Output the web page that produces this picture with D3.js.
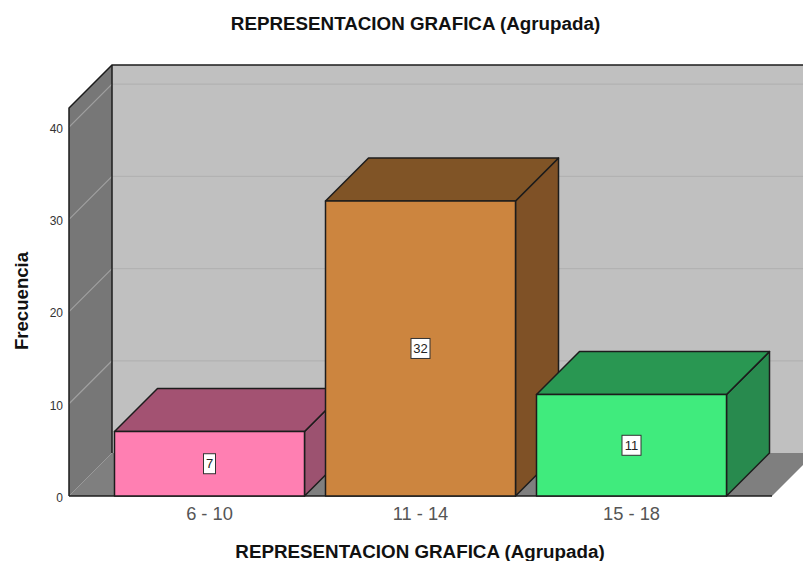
<!DOCTYPE html>
<html>
<head>
<meta charset="utf-8">
<script src="https://cdn.jsdelivr.net/npm/d3@7"></script>
<style>
  html, body { margin: 0; padding: 0; background: #fff; }
  svg { display: block; }
  text { font-family: "Liberation Sans", Arial, sans-serif; }
</style>
</head>
<body>
<script>
const categories = ['6 - 10', '11 - 14', '15 - 18'];
const frecuencia = [7, 32, 11];
const yTicks = [0, 10, 20, 30, 40];
const yMax = 42.08;
const titulo = 'REPRESENTACION GRAFICA (Agrupada)';
const ejeY = 'Frecuencia';
const frontColors = ['#ff7fb2', '#cc853f', '#40eb7d'];
const topColors = ['#a35272', '#805426', '#299752'];
const sideColors = ['#9c5270', '#7f5126', '#288a4e'];

const width = 803, height = 561;
const depth = 43;
const left = 69, right = 772, bottom = 496, topY = 108;
const line = '#1c1c1c';

const svg = d3.select('body').append('svg')
  .attr('width', width).attr('height', height);

const x = d3.scaleBand()
  .domain(categories)
  .range([104, 737])
  .paddingInner(21 / 211)
  .paddingOuter(10.5 / 211);

const y = d3.scaleLinear().domain([0, yMax]).range([bottom, topY]);

const poly = pts => pts.map(p => p.join(',')).join(' ');

// back wall, floor and side wall
svg.append('polygon')
  .attr('points', poly([[left + depth, topY - depth], [right + depth, topY - depth], [right + depth, bottom - depth], [left + depth, bottom - depth]]))
  .attr('fill', '#c0c0c0');
svg.append('polygon')
  .attr('points', poly([[left, bottom], [left + depth, bottom - depth], [right + depth, bottom - depth], [right, bottom]]))
  .attr('fill', '#7f7f7f');
svg.append('polygon')
  .attr('points', poly([[left, topY], [left + depth, topY - depth], [left + depth, bottom - depth], [left, bottom]]))
  .attr('fill', '#777');

// gridlines bend round the corner of the two walls
const grid = svg.append('g').attr('fill', 'none').attr('stroke-width', 1.2);
grid.selectAll('.wall')
  .data(yTicks.filter(d => d > 0))
  .enter()
  .append('line')
  .attr('class', 'wall')
  .attr('x1', left).attr('y1', d => y(d))
  .attr('x2', left + depth).attr('y2', d => y(d) - depth)
  .attr('stroke', '#a0a0a0');
grid.selectAll('.back')
  .data(yTicks.filter(d => d > 0))
  .enter()
  .append('line')
  .attr('class', 'back')
  .attr('x1', left + depth).attr('y1', d => y(d) - depth)
  .attr('x2', right + depth).attr('y2', d => y(d) - depth)
  .attr('stroke', '#b2b2b2');
svg.append('line')
  .attr('x1', left).attr('y1', bottom)
  .attr('x2', left + depth).attr('y2', bottom - depth)
  .attr('stroke', '#999');

// wall outline
svg.append('polyline')
  .attr('points', poly([[left, bottom], [left, topY], [left + depth, topY - depth], [right + depth, topY - depth]]))
  .attr('fill', 'none').attr('stroke', line).attr('stroke-width', 1.5);
svg.append('line')
  .attr('x1', left + depth).attr('x2', left + depth)
  .attr('y1', topY - depth).attr('y2', bottom - depth)
  .attr('stroke', line).attr('stroke-width', 1.5);
svg.append('line')
  .attr('x1', left).attr('x2', right)
  .attr('y1', bottom).attr('y2', bottom)
  .attr('stroke', line).attr('stroke-width', 1.5);

// bars
const bars = svg.append('g').selectAll('g')
  .data(categories)
  .enter()
  .append('g')
  .attr('stroke', line)
  .attr('stroke-width', 1.5)
  .attr('stroke-linejoin', 'round');

bars.append('polygon')
  .attr('points', (c, i) => {
    const x1 = x(c) + x.bandwidth(), t = y(frecuencia[i]);
    return poly([[x1, t], [x1 + depth, t - depth], [x1 + depth, bottom - depth], [x1, bottom]]);
  })
  .attr('fill', (c, i) => sideColors[i]);
bars.append('polygon')
  .attr('points', (c, i) => {
    const x0 = x(c), x1 = x0 + x.bandwidth(), t = y(frecuencia[i]);
    return poly([[x0, t], [x0 + depth, t - depth], [x1 + depth, t - depth], [x1, t]]);
  })
  .attr('fill', (c, i) => topColors[i]);
bars.append('rect')
  .attr('x', c => x(c))
  .attr('y', (c, i) => y(frecuencia[i]))
  .attr('width', x.bandwidth())
  .attr('height', (c, i) => bottom - y(frecuencia[i]))
  .attr('fill', (c, i) => frontColors[i]);

// value labels
const labels = svg.append('g').selectAll('g')
  .data(categories)
  .enter()
  .append('g')
  .attr('transform', (c, i) => `translate(${x(c) + x.bandwidth() / 2},${(y(frecuencia[i]) + bottom) / 2})`);
labels.append('rect')
  .attr('x', (c, i) => String(frecuencia[i]).length > 1 ? -9.5 : -6)
  .attr('y', -10)
  .attr('width', (c, i) => String(frecuencia[i]).length > 1 ? 19 : 12)
  .attr('height', 20)
  .attr('fill', '#fff')
  .attr('stroke', '#333')
  .attr('stroke-width', 1);
labels.append('text')
  .attr('text-anchor', 'middle')
  .attr('y', 4.5)
  .attr('font-size', '13px')
  .attr('fill', '#222')
  .text((c, i) => frecuencia[i]);

// axes
const yAxis = svg.append('g')
  .attr('transform', `translate(${left},0)`)
  .call(d3.axisLeft(y).tickValues(yTicks).tickSize(0).tickPadding(6));
yAxis.select('.domain').remove();
yAxis.selectAll('text')
  .attr('font-family', '"Liberation Sans", Arial, sans-serif')
  .attr('font-size', '12px')
  .attr('fill', '#333')
  .attr('dy', '0.45em');

const xAxis = svg.append('g')
  .attr('transform', `translate(0,${bottom})`)
  .call(d3.axisBottom(x).tickSize(0).tickPadding(11));
xAxis.select('.domain').remove();
xAxis.selectAll('text')
  .attr('font-family', '"Liberation Sans", Arial, sans-serif')
  .attr('font-size', '18.3px')
  .attr('fill', '#555');

// titles
svg.append('text')
  .attr('x', 415.5).attr('y', 30)
  .attr('text-anchor', 'middle')
  .attr('font-size', '18.8px').attr('font-weight', 'bold').attr('fill', '#111')
  .text(titulo);
svg.append('text')
  .attr('x', 420).attr('y', 558)
  .attr('text-anchor', 'middle')
  .attr('font-size', '18.8px').attr('font-weight', 'bold').attr('fill', '#111')
  .text(titulo);
svg.append('text')
  .attr('transform', 'translate(28,301) rotate(-90)')
  .attr('text-anchor', 'middle')
  .attr('font-size', '18.6px').attr('font-weight', 'bold').attr('fill', '#111')
  .text(ejeY);
</script>
</body>
</html>
